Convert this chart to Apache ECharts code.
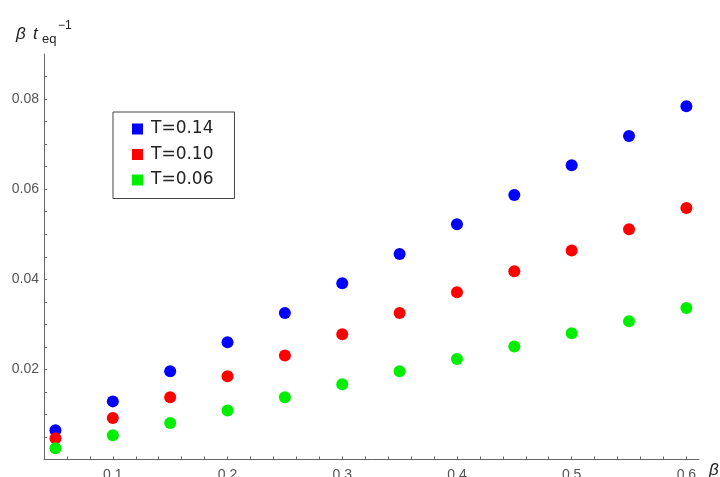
<!DOCTYPE html>
<html>
<head>
<meta charset="utf-8">
<script src="https://cdn.jsdelivr.net/npm/echarts@6/dist/echarts.min.js"></script>
<style>
html,body{margin:0;padding:0;background:#fff;overflow:hidden;}
#chart{width:720px;height:477px;}
</style>
</head>
<body>
<div id="chart"></div>
<script>
const beta = [0.05, 0.10, 0.15, 0.20, 0.25, 0.30, 0.35, 0.40, 0.45, 0.50, 0.55, 0.60];
const seriesT014 = [0.0065, 0.0129, 0.0196, 0.0260, 0.0325, 0.0391, 0.0456, 0.0522, 0.0587, 0.0653, 0.0718, 0.0784];
const seriesT010 = [0.0047, 0.0092, 0.0138, 0.0185, 0.0231, 0.0278, 0.0325, 0.0371, 0.0418, 0.0464, 0.0511, 0.0558];
const seriesT006 = [0.0025, 0.0054, 0.0081, 0.0109, 0.0138, 0.0167, 0.0196, 0.0223, 0.0251, 0.0280, 0.0307, 0.0336];
const seriesNames = ['T=0.14', 'T=0.10', 'T=0.06'];
const xTickLabels = [0.1, 0.2, 0.3, 0.4, 0.5, 0.6];
const xTicks = [0.04, 0.06, 0.08, 0.10, 0.12, 0.14, 0.16, 0.18, 0.20, 0.22, 0.24, 0.26, 0.28, 0.30, 0.32, 0.34, 0.36, 0.38, 0.40, 0.42, 0.44, 0.46, 0.48, 0.50, 0.52, 0.54, 0.56, 0.58, 0.60];
const yTickLabels = [0.02, 0.04, 0.06, 0.08];
const yTicks = [0.005, 0.010, 0.015, 0.020, 0.025, 0.030, 0.035, 0.040, 0.045, 0.050, 0.055, 0.060, 0.065, 0.070, 0.075, 0.080, 0.085];

const axisColor = '#666';
const labelColor = '#555';
const colors = ['#0000ff', '#ff0000', '#00ee00'];
const allSeries = [seriesT014, seriesT010, seriesT006];

const chart = echarts.init(document.getElementById('chart'));
chart.setOption({
  animation: false,
  backgroundColor: '#fff',
  grid: {left: 44, top: 54, right: 21, bottom: 17.5, containLabel: false, outerBoundsMode: 'none'},
  legend: {
    orient: 'vertical',
    left: 113, top: 112,
    data: seriesNames,
    icon: 'rect',
    itemWidth: 11, itemHeight: 11,
    itemGap: 8.5,
    borderColor: '#444', borderWidth: 1,
    padding: [8.5, 21, 10, 19],
    textStyle: {fontFamily: 'DejaVu Sans', fontSize: 17, color: '#222', lineHeight: 17, padding: [0, 0, 0, 3]}
  },
  xAxis: {
    type: 'value', min: 0.04, max: 0.611,
    axisLine: {show: true, lineStyle: {color: axisColor, width: 1}},
    axisTick: {show: true, inside: true, length: 3, customValues: xTicks, lineStyle: {color: axisColor}},
    axisLabel: {customValues: xTickLabels, margin: 9, fontFamily: 'Liberation Sans', fontSize: 14, color: labelColor,
      formatter: v => String(Math.round(v * 10) / 10)},
    splitLine: {show: false}
  },
  yAxis: {
    type: 'value', min: 0, max: 0.09,
    axisLine: {show: true, lineStyle: {color: axisColor, width: 1}},
    axisTick: {show: true, inside: true, length: 3, customValues: yTicks, lineStyle: {color: axisColor}},
    axisLabel: {customValues: yTickLabels, margin: 5, fontFamily: 'Liberation Sans', fontSize: 14, color: labelColor,
      formatter: v => v.toFixed(2)},
    splitLine: {show: false}
  },
  graphic: [
    {type: 'text', left: 16, top: 26, style: {text: 'β', font: 'italic 17px "Liberation Sans"', fill: '#222'}},
    {type: 'text', left: 33, top: 26, style: {text: 't', font: 'italic 17px "Liberation Sans"', fill: '#222'}},
    {type: 'text', left: 42, top: 33, style: {text: 'eq', font: '13px "Liberation Sans"', fill: '#222'}},
    {type: 'text', left: 58, top: 20, style: {text: '−1', font: '12px "Liberation Sans"', fill: '#222'}},
    {type: 'text', left: 709, top: 462, style: {text: 'β', font: 'italic 17px "Liberation Sans"', fill: '#222'}}
  ],
  series: allSeries.map((vals, k) => ({
    name: seriesNames[k],
    type: 'scatter',
    symbol: 'circle',
    symbolSize: 12,
    itemStyle: {color: colors[k], opacity: 1},
    data: beta.map((b, i) => [b, vals[i]])
  }))
});
</script>
</body>
</html>
